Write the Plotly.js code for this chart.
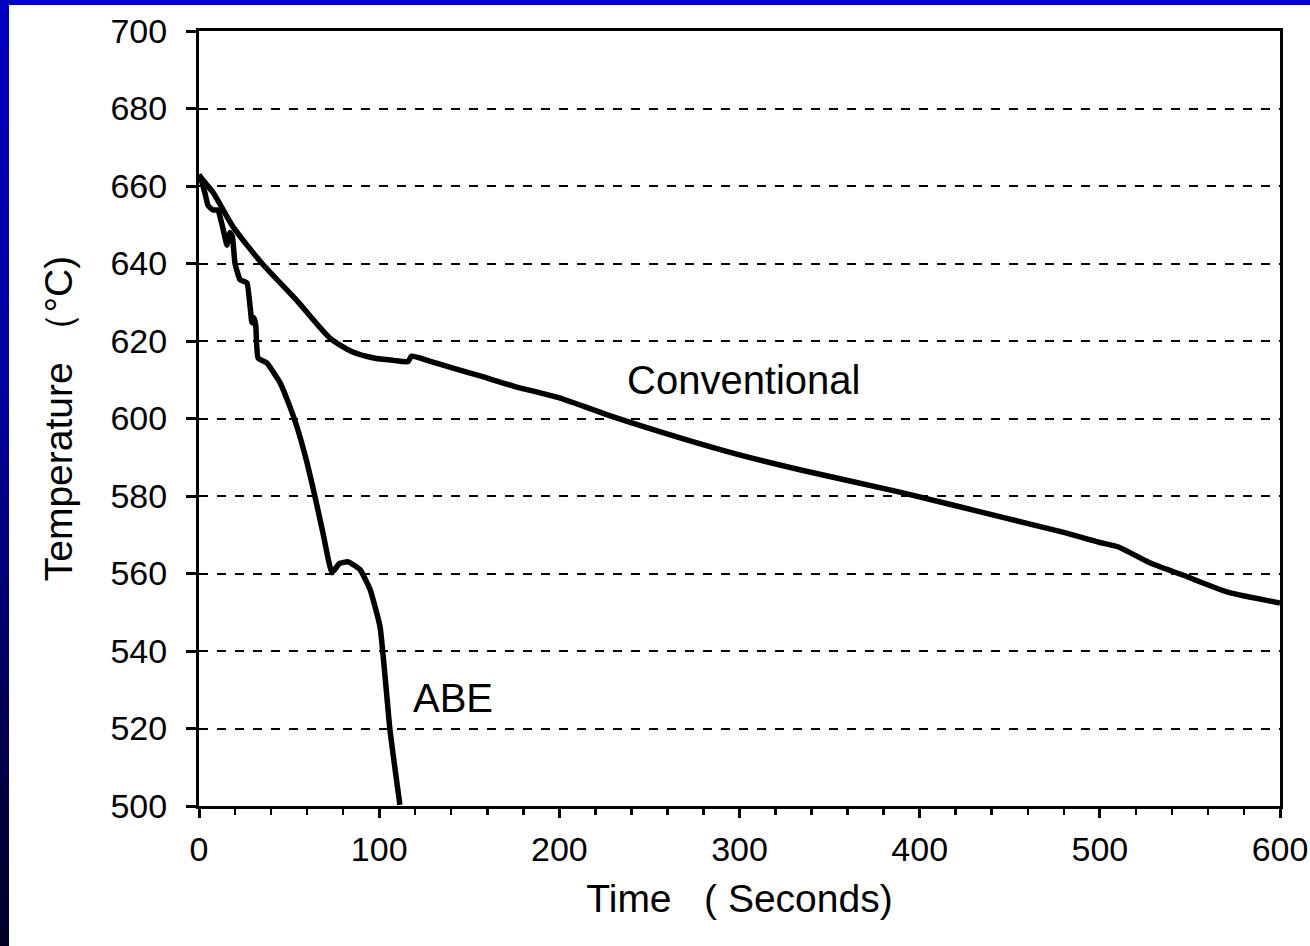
<!DOCTYPE html>
<html>
<head>
<meta charset="utf-8">
<script src="https://cdn.plot.ly/plotly-3.0.1.min.js"></script>
<style>
  html, body { margin: 0; padding: 0; width: 1310px; height: 946px; overflow: hidden;
    background: linear-gradient(to bottom, #0000c4 0%, #00009a 45%, #000040 85%, #000028 100%); }
  #chart { position: absolute; left: 9px; top: 5px; width: 1301px; height: 941px; background: #ffffff; }
</style>
</head>
<body>
<div id="chart"></div>
<script>
// Conventional casting cooling curve
const convTime = [0, 4, 8, 19, 35, 54, 73, 85, 97, 108, 116, 118, 128, 141, 156, 175, 200, 230, 267, 300, 334, 389, 445, 480, 500, 510, 528, 546, 571, 600];
const convTemp = [662.8, 660.5, 658.2, 649.4, 640, 630.6, 620.6, 617.2, 615.6, 615.0, 614.7, 616.1, 614.8, 613.0, 611.0, 608.3, 605.3, 600.4, 595.0, 590.6, 586.7, 581.0, 574.6, 570.6, 568.0, 566.9, 562.7, 559.6, 555.2, 552.4];

// ABE cooling curve
const abeTime = [0, 1, 3.3, 5, 7.8, 10.5, 12.8, 15.5, 16.5, 17.2, 18.5, 20, 22.8, 26.6, 29.4, 30.5, 31.5, 32.8, 37.7, 45, 50.5, 54.4, 60, 64.4, 68.8, 73.8, 78, 82.7, 89.4, 95, 100.5, 106, 111.5];
const abeTemp = [663, 662, 658.2, 655, 653.8, 653.8, 650, 644.8, 647, 648, 647, 640, 635.8, 635, 624.7, 626, 624, 615.6, 614.3, 609.2, 603, 597.8, 588.5, 579.8, 570.5, 560.2, 562.6, 563, 561, 555.8, 546.2, 519.6, 500.3];

const xTicks = [0, 100, 200, 300, 400, 500, 600];
const yTicks = [500, 520, 540, 560, 580, 600, 620, 640, 660, 680, 700];

const labels = [
  {text: "Conventional", t: 302.5, T: 610},
  {text: "ABE", t: 141, T: 528}
];

const FONT = '"Liberation Sans", Arial, sans-serif';

const traces = [
  {x: convTime, y: convTemp, type: 'scatter', mode: 'lines', name: 'Conventional',
   line: {color: '#000000', width: 5.5, shape: 'spline', smoothing: 0.6}},
  {x: abeTime, y: abeTemp, type: 'scatter', mode: 'lines', name: 'ABE',
   line: {color: '#000000', width: 5.5, shape: 'spline', smoothing: 0.4}}
];

const layout = {
  width: 1301, height: 941,
  paper_bgcolor: '#ffffff', plot_bgcolor: '#ffffff',
  showlegend: false,
  margin: {l: 190, r: 30, t: 26, b: 140},
  font: {family: FONT, color: '#000000'},
  xaxis: {
    range: [0, 600], tickvals: xTicks, ticktext: xTicks.map(String),
    showgrid: false, zeroline: false,
    showline: true, linecolor: '#000000', linewidth: 3, mirror: true,
    ticks: 'outside', ticklen: 9, tickwidth: 3, tickcolor: '#000000',
    minor: {dtick: 20, ticks: 'outside', ticklen: 6, tickwidth: 2.5, tickcolor: '#000000', showgrid: false},
    tickfont: {family: FONT, size: 34, color: '#000000'},
    ticklabelstandoff: 2,
    title: {text: 'Time   ( Seconds)', font: {family: FONT, size: 39, color: '#000000'}, standoff: 18}
  },
  yaxis: {
    range: [500, 700], tickvals: yTicks, ticktext: yTicks.map(String),
    showgrid: true, gridcolor: '#000000', gridwidth: 2, griddash: 'dash',
    zeroline: false,
    showline: true, linecolor: '#000000', linewidth: 3, mirror: true,
    ticks: 'outside', ticklen: 10, tickwidth: 3, tickcolor: '#000000',
    tickfont: {family: FONT, size: 34, color: '#000000'},
    ticklabelstandoff: 12,
    title: {text: 'Temperature （°C)', font: {family: FONT, size: 39, color: '#000000'}, standoff: 26}
  },
  annotations: labels.map(l => ({
    x: l.t, y: l.T, xref: 'x', yref: 'y', text: l.text, showarrow: false,
    font: {family: FONT, size: 40, color: '#000000'}
  }))
};

Plotly.newPlot('chart', traces, layout, {displayModeBar: false, staticPlot: true});
</script>
</body>
</html>
